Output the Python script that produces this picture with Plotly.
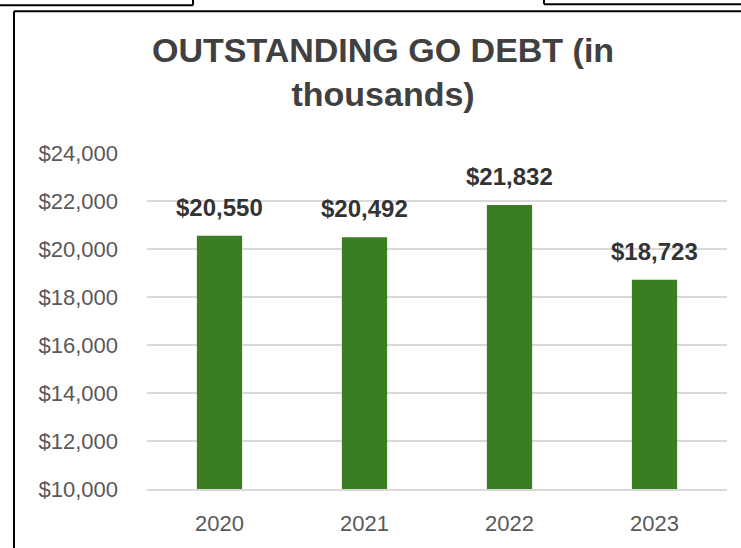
import plotly.graph_objects as go

# Outstanding general obligation debt, in thousands of dollars
years = ["2020", "2021", "2022", "2023"]
debt = [20550, 20492, 21832, 18723]
y_ticks = [10000, 12000, 14000, 16000, 18000, 20000, 22000, 24000]
y_tick_text = [f"${v:,}" for v in y_ticks]

W, H = 741, 548
L, R, T, B = 147, 14, 153, 56
PW, PH = W - L - R, H - T - B

BAR = "#3A7D22"
GRID = "#D9D9D9"
FONT = "Liberation Sans, Arial, sans-serif"


def px_x(x):
    return (x - L) / PW


def px_y(y):
    return (H - B - y) / PH


fig = go.Figure(
    go.Bar(
        x=years,
        y=debt,
        marker=dict(color=BAR, line=dict(width=0)),
        hoverinfo="skip",
    )
)

# Value labels above each bar (x given as category index)
for i, v in enumerate(debt):
    fig.add_annotation(
        x=i, y=v, xref="x", yref="y",
        text=f"<b>${v:,}</b>",
        showarrow=False, yanchor="bottom", yshift=13,
        font=dict(family=FONT, size=24, color="#333333"),
    )

# Chart title
fig.add_annotation(
    x=px_x(383), y=px_y(28), xref="paper", yref="paper",
    xanchor="center", yanchor="top", showarrow=False,
    text="<b>OUTSTANDING GO DEBT (in<br>thousands)</b>",
    font=dict(family=FONT, size=34, color="#404040"),
)

# Frame lines around the chart and neighbouring boxes
line = dict(color="#000000", width=2)
frame = [
    (14, 10, 14, H + 5),
    (14, 10, W + 5, 10),
    (-5, 4, 193, 4),
    (193, -5, 193, 4),
    (544, 3, W + 5, 3),
    (544, -5, 544, 3),
]
for x0, y0, x1, y1 in frame:
    fig.add_shape(
        type="line", xref="paper", yref="paper",
        x0=px_x(x0), y0=px_y(y0), x1=px_x(x1), y1=px_y(y1),
        line=line,
    )

fig.update_layout(
    width=W, height=H,
    margin=dict(l=L, r=R, t=T, b=B),
    paper_bgcolor="white", plot_bgcolor="white",
    bargap=0.688,
    showlegend=False,
    font=dict(family=FONT, size=22, color="#595959"),
    xaxis=dict(
        type="category", range=[-0.5, len(years) - 0.5],
        showgrid=False, showline=True, linecolor=GRID, linewidth=1.5,
        ticks="", ticklabelstandoff=14,
        tickfont=dict(family=FONT, size=22, color="#595959"),
    ),
    yaxis=dict(
        range=[10000, 24000], tickvals=y_ticks, ticktext=y_tick_text,
        showgrid=True, gridcolor=GRID, gridwidth=1.5,
        zeroline=False, showline=False, ticks="",
        ticklabelstandoff=28,
        tickfont=dict(family=FONT, size=22, color="#595959"),
    ),
)

fig.write_html("out.html")
